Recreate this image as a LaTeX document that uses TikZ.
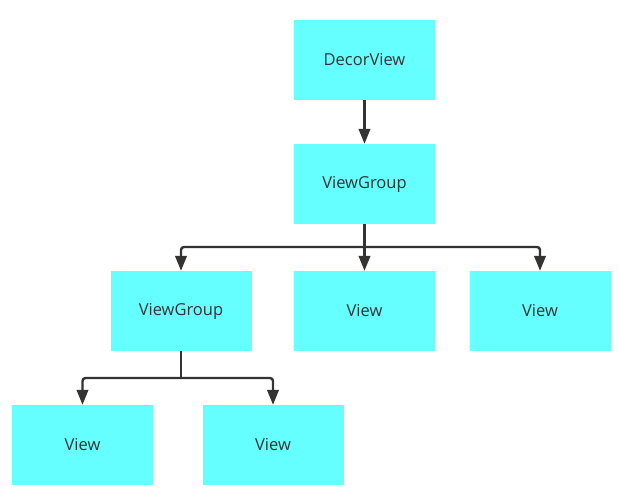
\documentclass[tikz,border=0pt]{standalone}
\usepackage{fontspec}
\setmainfont{Open Sans}
\usetikzlibrary{arrows.meta}
\definecolor{boxfill}{HTML}{66FFFF}
\definecolor{ink}{HTML}{333333}
\tikzset{
  box/.style={fill=boxfill, draw=none, minimum width=141pt, minimum height=80pt,
    inner sep=0pt, text=ink, font=\fontsize{16.5}{18}\selectfont},
  wire/.style={draw=ink, line width=2.4pt, rounded corners=3pt},
  link/.style={wire, -{Triangle[length=15pt,width=11.5pt]}},
}
\begin{document}
\begin{tikzpicture}[x=1pt,y=-1pt]
  \useasboundingbox (0,0) rectangle (620,499);
  % tree nodes
  \node[box] (dv)  at (364.5,60)  {DecorView};
  \node[box] (vg)  at (364.5,184) {ViewGroup};
  \node[box] (vg2) at (181,311)   {ViewGroup};
  \node[box] (v1)  at (364.5,311) {View};
  \node[box] (v2)  at (540,311)   {View};
  \node[box] (v3)  at (82.5,445)  {View};
  \node[box] (v4)  at (273,445)   {View};
  % branch points
  \coordinate (b1) at (364.5,247);
  \coordinate (b2) at (181,378);
  % connectors
  \draw[link] (dv.south) -- (vg.north);
  \draw[link] (vg.south) -- (v1.north);
  \draw[link] (b1) -| (vg2.north);
  \draw[link] (b1) -| (v2.north);
  \draw[wire] (vg2.south) -- (b2);
  \draw[link] (b2) -| (v3.north);
  \draw[link] (b2) -| (v4.north);
\end{tikzpicture}
\end{document}
